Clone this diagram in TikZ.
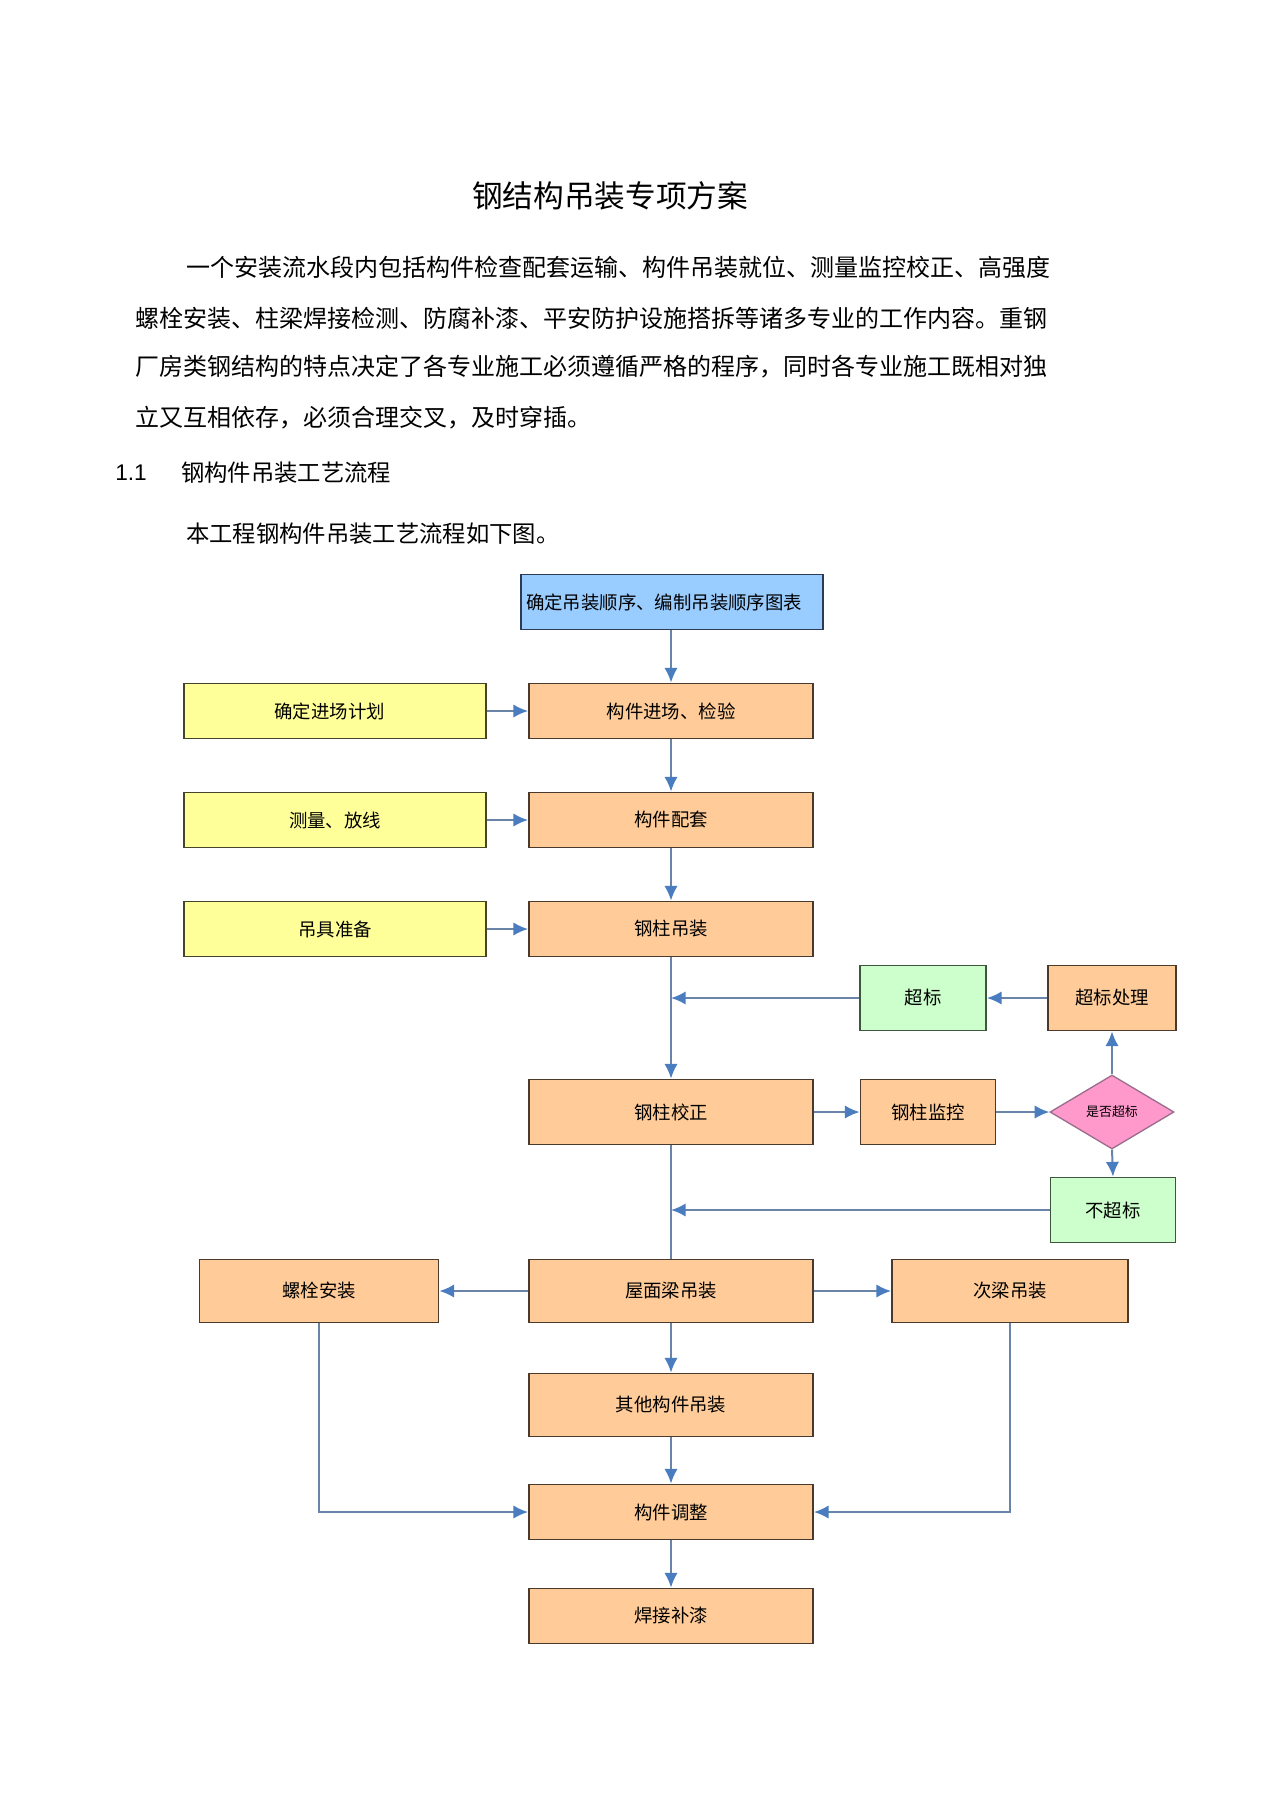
\documentclass[tikz,border=0pt]{standalone}
\usepackage{fontspec}
\setmainfont{Liberation Sans}
\newfontfamily\cjk{Noto Sans CJK SC}
\usetikzlibrary{arrows.meta,shapes.geometric}
\newlength\pxu \setlength\pxu{0.75pt}
\definecolor{bluef}{HTML}{99CCFF}
\definecolor{yellowf}{HTML}{FFFF99}
\definecolor{orangef}{HTML}{FFCC99}
\definecolor{greenf}{HTML}{CCFFCC}
\definecolor{pinkf}{HTML}{FF99CC}
\definecolor{linec}{HTML}{6A84A8}
\definecolor{arrowc}{HTML}{4A7CC0}
\definecolor{bordbrown}{HTML}{4A3A2C}
\definecolor{bordolive}{HTML}{45452A}
\definecolor{bordgreen}{HTML}{3E553E}
\definecolor{bordnavy}{HTML}{2C3A55}
\definecolor{bordpink}{HTML}{9A6E8C}
\tikzset{
  fbox/.style={rectangle, inner sep=0pt, line width=1.4pt, text=black,
    font=\cjk\fontsize{13.8}{16}\selectfont},
  obox/.style={fbox, draw=bordbrown, fill=orangef},
  ybox/.style={fbox, draw=bordolive, fill=yellowf},
  gbox/.style={fbox, draw=bordgreen, fill=greenf},
  bbox/.style={fbox, draw=bordnavy, fill=bluef},
  link/.style={draw=linec, line width=1.5pt},
  arr/.style={link, -{Latex[length=11pt,width=10pt,color=arrowc]}},
  para/.style={anchor=west, inner sep=0pt, font=\cjk\fontsize{18}{20}\selectfont}
}
\begin{document}
\begin{tikzpicture}[x=\pxu, y=-\pxu]
\useasboundingbox[fill=white] (0,0) rectangle (1274,1804);
% header text
\node[inner sep=0pt, font=\cjk\fontsize{23}{26}\selectfont] (title) at (610,196) {钢结构吊装专项方案};
\node[para] (p1) at (186,267) {一个安装流水段内包括构件检查配套运输、构件吊装就位、测量监控校正、高强度};
\node[para] (p2) at (135,318) {螺栓安装、柱梁焊接检测、防腐补漆、平安防护设施搭拆等诸多专业的工作内容。重钢};
\node[para] (p3) at (135,367) {厂房类钢结构的特点决定了各专业施工必须遵循严格的程序，同时各专业施工既相对独};
\node[para] (p4) at (135,418) {立又互相依存，必须合理交叉，及时穿插。};
\node[anchor=west, inner sep=0pt, font=\fontsize{17}{20}\selectfont] (secnum) at (115,473) {1.1};
\node[para, font=\cjk\fontsize{17.5}{20}\selectfont] (sec) at (181,473) {钢构件吊装工艺流程};
\node[para, font=\cjk\fontsize{17.5}{20}\selectfont] (intro) at (186,534) {本工程钢构件吊装工艺流程如下图。};

% flowchart boxes
\node[bbox, minimum width=302\pxu, minimum height=55\pxu] (order) at (672,602) {确定吊装顺序、编制吊装顺序图表\hspace*{12pt}};
\node[ybox, minimum width=302\pxu, minimum height=55\pxu] (plan) at (335,711) {确定进场计划\hspace*{8pt}};
\node[obox, minimum width=284\pxu, minimum height=55\pxu] (enter) at (671,711) {构件进场、检验};
\node[ybox, minimum width=302\pxu, minimum height=55\pxu] (survey) at (335,820) {测量、放线};
\node[obox, minimum width=284\pxu, minimum height=55\pxu] (match) at (671,820) {构件配套};
\node[ybox, minimum width=302\pxu, minimum height=55\pxu] (rig) at (335,929) {吊具准备};
\node[obox, minimum width=284\pxu, minimum height=55\pxu] (colhoist) at (671,929) {钢柱吊装};
\node[gbox, minimum width=126\pxu, minimum height=65\pxu] (over) at (923,998) {超标};
\node[obox, minimum width=128\pxu, minimum height=65\pxu] (overfix) at (1112,998) {超标处理};
\node[obox, minimum width=284\pxu, minimum height=65\pxu] (colfix) at (671,1112) {钢柱校正};
\node[obox, minimum width=135\pxu, minimum height=65\pxu] (colmon) at (928,1112) {钢柱监控};
\node[diamond, draw=bordpink, fill=pinkf, line width=1pt, inner sep=0pt,
      minimum width=124\pxu, minimum height=74\pxu, aspect=1.68,
      font=\cjk\fontsize{9.7}{11}\selectfont] (check) at (1112,1112) {是否超标};
\node[gbox, minimum width=125\pxu, minimum height=65\pxu] (notover) at (1113,1210) {不超标};
\node[obox, minimum width=239\pxu, minimum height=63\pxu] (bolt) at (319,1291) {螺栓安装};
\node[obox, minimum width=284\pxu, minimum height=63\pxu] (roof) at (671,1291) {屋面梁吊装};
\node[obox, minimum width=236\pxu, minimum height=63\pxu] (sec2) at (1010,1291) {次梁吊装};
\node[obox, minimum width=284\pxu, minimum height=63\pxu] (other) at (671,1405) {其他构件吊装};
\node[obox, minimum width=284\pxu, minimum height=55\pxu] (adjust) at (671,1512) {构件调整};
\node[obox, minimum width=284\pxu, minimum height=55\pxu] (weld) at (671,1616) {焊接补漆};

% connectors
\draw[arr] (order.south -| enter.north) -- (enter.north);
\draw[arr] (plan.east) -- (enter.west);
\draw[arr] (enter.south) -- (match.north);
\draw[arr] (survey.east) -- (match.west);
\draw[arr] (match.south) -- (colhoist.north);
\draw[arr] (rig.east) -- (colhoist.west);
\draw[arr] (colhoist.south) -- (colfix.north);
\draw[arr] (overfix.west) -- (over.east);
\draw[arr] (over.west) -- (over.west -| colfix.north);
\draw[arr] (colfix.east) -- (colmon.west);
\draw[arr] (colmon.east) -- (check.west);
\draw[arr] (check.north) -- (overfix.south);
\draw[arr] (check.south) -- (notover.north);
\draw[arr] (notover.west) -- (notover.west -| colfix.south);
\draw[link] (colfix.south) -- (roof.north);
\draw[arr] (roof.west) -- (bolt.east);
\draw[arr] (roof.east) -- (sec2.west);
\draw[arr] (roof.south) -- (other.north);
\draw[arr] (other.south) -- (adjust.north);
\draw[arr] (bolt.south) |- (adjust.west);
\draw[arr] (sec2.south) |- (adjust.east);
\draw[arr] (adjust.south) -- (weld.north);
\end{tikzpicture}
\end{document}
